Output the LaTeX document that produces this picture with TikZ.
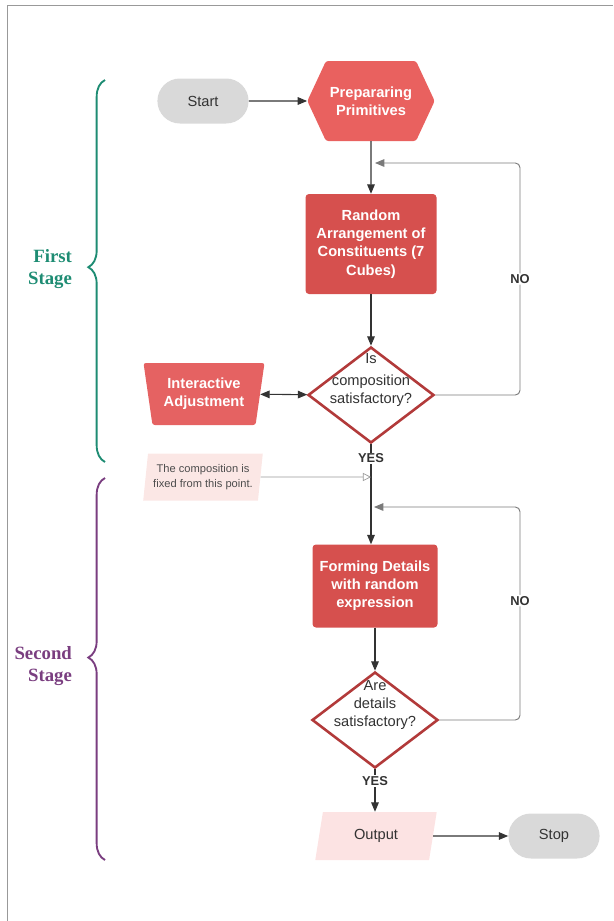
\documentclass[tikz,border=0pt]{standalone}
\usepackage{fontspec}
\setmainfont{Liberation Sans}
\newfontfamily\stagefont{Liberation Serif}
\usetikzlibrary{arrows.meta}
\usetikzlibrary{calc}
\usetikzlibrary{shapes.geometric,shapes.misc,shapes.symbols}
\usetikzlibrary{decorations.pathreplacing}

\definecolor{pillgray}{HTML}{D9D9D9}
\definecolor{hexred}{HTML}{E9615F}
\definecolor{boxred}{HTML}{D6504E}
\definecolor{trapred}{HTML}{E56262}
\definecolor{rimred}{HTML}{B23A3A}
\definecolor{outpink}{HTML}{FCE3E3}
\definecolor{notepink}{HTML}{FBE7E5}
\definecolor{linegray}{HTML}{333333}
\definecolor{loopgray}{HTML}{7A7A7A}
\definecolor{stagegreen}{HTML}{1E8C73}
\definecolor{stagepurple}{HTML}{7A3E80}

\begin{document}
\begin{tikzpicture}[>={Stealth[length=8pt,width=6.5pt,inset=0pt]},x=0.03cm,y=-0.03cm,
      every node/.style={font=\fontsize{12.5}{15.5}\selectfont,align=center,text=linegray},
      term node/.style={rounded rectangle,fill=pillgray,minimum width=2.97cm,minimum height=1.35cm},
      red text/.style={text=white,font=\fontsize{12.5}{15.5}\selectfont\bfseries},
      prep node/.style={signal,signal to=west and east,signal pointer angle=130,fill=hexred,red text,
        minimum width=3.66cm,minimum height=2.4cm,rounded corners=2pt},
      step node/.style={rectangle,rounded corners=3pt,fill=boxred,red text,inner sep=2pt},
      decision/.style={diamond,draw=rimred,line width=2.2pt,fill=white,inner sep=0pt,
        minimum width=3.78cm,minimum height=2.88cm},
      adjust node/.style={trapezium,shape border rotate=180,trapezium left angle=79,trapezium right angle=79,
        trapezium stretches=true,fill=trapred,red text,minimum width=3.66cm,minimum height=1.86cm,rounded corners=2pt},
      io node/.style={trapezium,trapezium left angle=80,trapezium right angle=100,trapezium stretches=true,
        fill=outpink,minimum width=3.66cm,minimum height=1.44cm},
      note node/.style={trapezium,trapezium left angle=82,trapezium right angle=98,trapezium stretches=true,
        fill=notepink,minimum width=3.6cm,minimum height=1.41cm,text=black!70,
        font=\fontsize{9.5}{13}\selectfont},
      answer/.style={fill=white,inner sep=1pt,font=\fontsize{11}{13}\selectfont\bfseries},
      loop line/.style={draw=loopgray,line width=0.8pt,rounded corners=4pt},
      stage label/.style={anchor=east,align=right,font=\stagefont\bfseries\fontsize{16}{19}\selectfont},
      stage brace/.style={line width=1.6pt,decorate,decoration={brace,amplitude=0.5cm}}]
    \useasboundingbox (0,0) rectangle (613,921);
    \draw[gray!80] (7,921) -- (7,5) -- (613,5);

    % first stage
    \node[term node] (start) at (203,101) {Start};
    \node[prep node] (prep)  at (371,101) {Prepararing\\Primitives};
    \node[step node,minimum width=3.93cm,minimum height=3cm] (rand) at (371,244)
        {Random\\Arrangement of\\Constituents (7\\Cubes)};
    \node[decision] (dec1) at (371,395)
        [label={[yshift=0.45cm]center:Is\\[3pt]composition\\satisfactory?}] {};
    \node[adjust node] (adjust) at (204,394) {Interactive\\Adjustment};
    \coordinate (in1)  at (375,163);
    \coordinate (ret1) at (520,163);

    % second stage
    \node[note node] (note) at (203,477) {The composition is\\fixed from this point.};
    \coordinate (fix) at (371,477);
    \node[step node,minimum width=3.75cm,minimum height=2.49cm] (form) at (375,586)
        {Forming Details\\with random\\expression};
    \node[decision] (dec2) at (375,720)
        [label={[yshift=0.45cm]center:Are\\details\\satisfactory?}] {};
    \node[io node] (out) at (376,836) {Output};
    \node[term node] (stop) at (554,836) {Stop};
    \coordinate (in2)  at (374,507);
    \coordinate (ret2) at (520,507);

    \path[every edge/.style={draw=linegray,line width=0.9pt}]
         (start) edge [->] (prep)
         (prep)  edge [->] (rand)
         (rand)  edge [->] (dec1)
         (adjust) edge [<->] (dec1)
         (form)  edge [->] (dec2)
         (out)   edge [->] (stop);
    \draw[draw=linegray,line width=0.9pt,->] (dec1.south) -- node [answer,pos=0.14] {YES} (dec1.south |- form.north);
    \draw[draw=linegray,line width=0.9pt,->] (dec2.south) -- node [answer,pos=0.28] {YES} (dec2.south |- out.north);

    % loops back
    \draw[loop line,->] (dec1.east) -| node [answer,pos=0.75] {NO} (ret1) -- (in1);
    \draw[loop line,->] (dec2.east) -| node [answer,pos=0.78] {NO} (ret2) -- (in2);
    \draw[black!40,line width=0.6pt,-{Triangle[open,length=7pt,width=7pt]}] (note.east) -- (fix);

    % stages
    \draw[stage brace,stagegreen,decoration={aspect=0.51}] (105,462) -- (105,80);
    \draw[stage brace,stagepurple,decoration={aspect=0.53}] (105,860) -- (105,478);
    \node[stage label,text=stagegreen] (first) at (76,269) {First\\Stage};
    \node[stage label,text=stagepurple] (second) at (76,666) {Second\\Stage};
  \end{tikzpicture}
\end{document}
